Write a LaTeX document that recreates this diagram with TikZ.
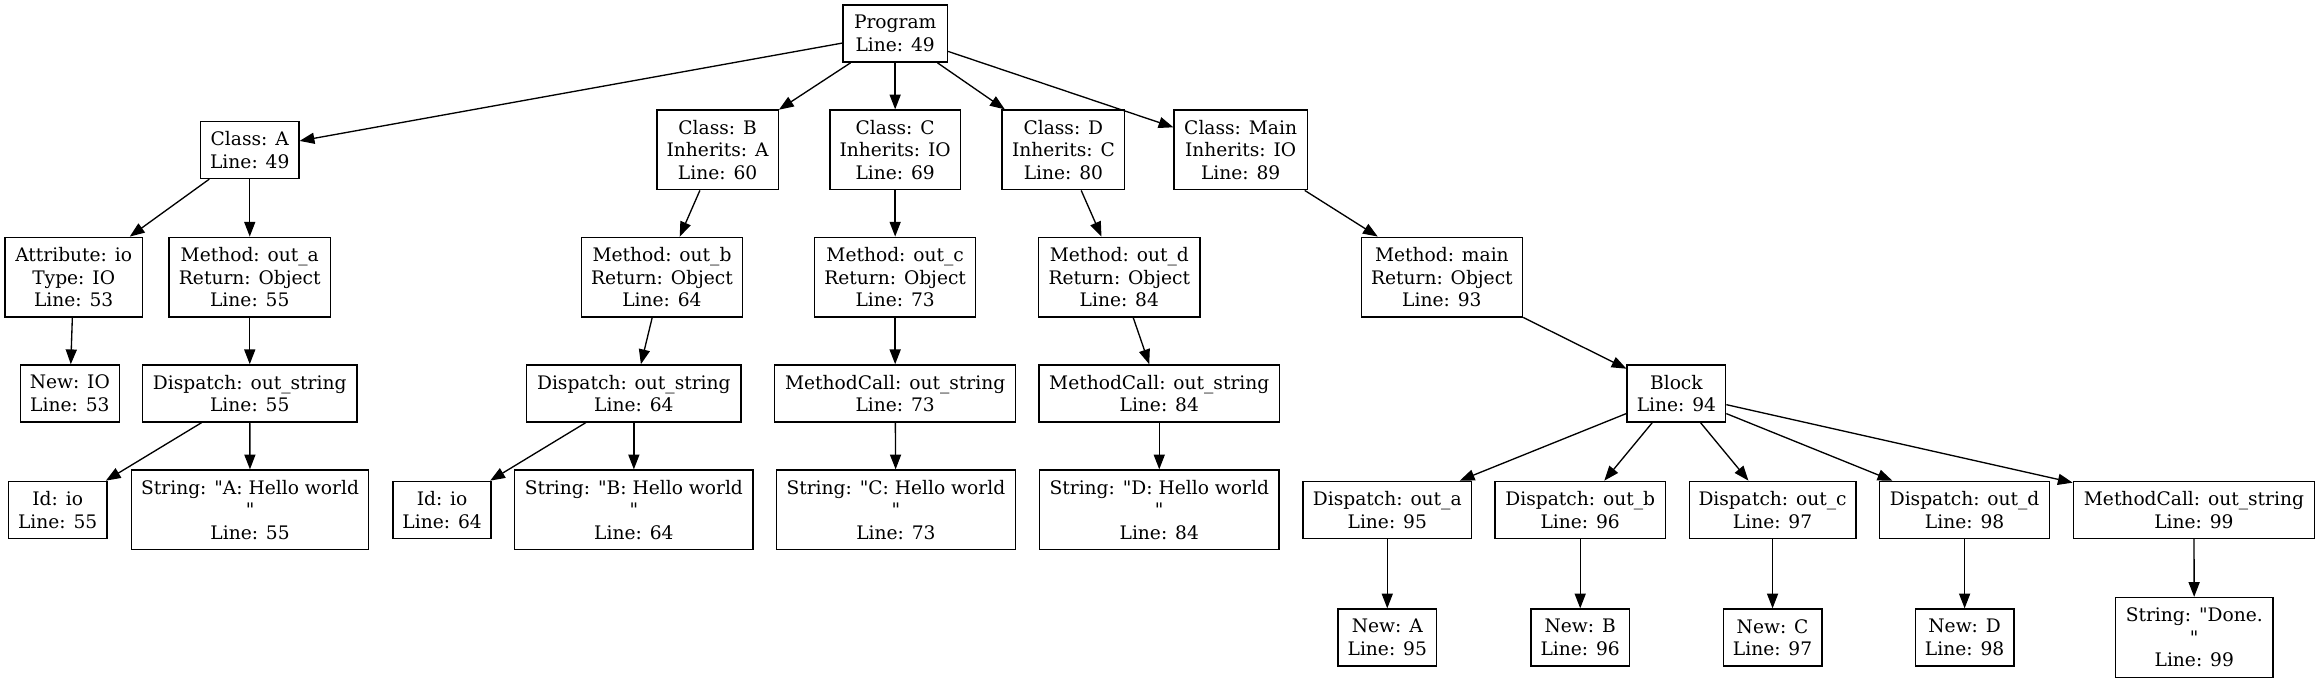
\documentclass[tikz,border=0pt]{standalone}
\usepackage{fontspec}
\setmainfont{DejaVu Serif}[Ligatures=TeXOff]
\usetikzlibrary{arrows.meta}
\begin{document}
\begin{tikzpicture}[x=1pt,y=-1pt,
  box/.style={draw, line width=0.9pt, align=center, inner xsep=6pt, inner ysep=2pt,
    font=\fontsize{12.6}{15.35}\selectfont, minimum height=38.6pt},
  tall/.style={box, minimum height=53.9pt},
  edge/.style={line width=0.9pt, -{Triangle[length=10pt,width=7.5pt]}}]
\path[use as bounding box] (0,0) rectangle (1568,461.6);
% row 0
\node[box, minimum width=70.7pt] (prog) at (605,22.7) {Program\\Line: 49};
% row 1
\node[box, minimum width=66.5pt] (clA) at (168.8,101.3) {Class: A\\Line: 49};
\node[tall, minimum width=82pt] (clB) at (485,101.3) {Class: B\\Inherits: A\\Line: 60};
\node[tall, minimum width=88pt] (clC) at (605,101.3) {Class: C\\Inherits: IO\\Line: 69};
\node[tall, minimum width=83pt] (clD) at (718.7,101.3) {Class: D\\Inherits: C\\Line: 80};
\node[tall, minimum width=90pt] (clMain) at (838.5,101.3) {Class: Main\\Inherits: IO\\Line: 89};
% row 2
\node[tall, minimum width=92.8pt] (attr) at (49.8,187.3) {Attribute: io\\Type: IO\\Line: 53};
\node[tall, minimum width=109pt] (mA) at (168.8,187.3) {Method: out\_a\\Return: Object\\Line: 55};
\node[tall, minimum width=109pt] (mB) at (447.4,187.3) {Method: out\_b\\Return: Object\\Line: 64};
\node[tall, minimum width=109pt] (mC) at (605,187.3) {Method: out\_c\\Return: Object\\Line: 73};
\node[tall, minimum width=109pt] (mD) at (756.5,187.3) {Method: out\_d\\Return: Object\\Line: 84};
\node[tall, minimum width=109pt] (mMain) at (974.5,187.3) {Method: main\\Return: Object\\Line: 93};
% row 3
\node[box, minimum width=67pt] (newIO) at (47.2,265.9) {New: IO\\Line: 53};
\node[box, minimum width=145pt] (dispA) at (168.8,265.9) {Dispatch: out\_string\\Line: 55};
\node[box, minimum width=145pt] (dispB) at (428.4,265.9) {Dispatch: out\_string\\Line: 64};
\node[box, minimum width=162.7pt] (mcC) at (605,265.9) {MethodCall: out\_string\\Line: 73};
\node[box, minimum width=162.6pt] (mcD) at (783.5,265.9) {MethodCall: out\_string\\Line: 84};
\node[box, minimum width=66.6pt] (block) at (1133,265.9) {Block\\Line: 94};
% row 4
\node[box, minimum width=66.6pt] (idA) at (39,344.6) {Id: io\\Line: 55};
\node[tall, minimum width=160.5pt] (strA) at (169,344.6) {String: "A: Hello world\\"\\Line: 55};
\node[box, minimum width=66.3pt] (idB) at (298.8,344.6) {Id: io\\Line: 64};
\node[tall, minimum width=161pt] (strB) at (428.4,344.6) {String: "B: Hello world\\"\\Line: 64};
\node[tall, minimum width=161.7pt] (strC) at (605.5,344.6) {String: "C: Hello world\\"\\Line: 73};
\node[tall, minimum width=161.7pt] (strD) at (783.5,344.6) {String: "D: Hello world\\"\\Line: 84};
\node[box, minimum width=114pt] (dA) at (937.6,344.6) {Dispatch: out\_a\\Line: 95};
\node[box, minimum width=115pt] (dB) at (1068,344.6) {Dispatch: out\_b\\Line: 96};
\node[box, minimum width=112.7pt] (dC) at (1198,344.6) {Dispatch: out\_c\\Line: 97};
\node[box, minimum width=114.7pt] (dD) at (1327.8,344.6) {Dispatch: out\_d\\Line: 98};
\node[box, minimum width=163pt] (mc99) at (1482.8,344.6) {MethodCall: out\_string\\Line: 99};
% row 5
\node[box, minimum width=66.6pt] (nA) at (937.6,430.9) {New: A\\Line: 95};
\node[box, minimum width=66.6pt] (nB) at (1068,430.9) {New: B\\Line: 96};
\node[box, minimum width=66.6pt] (nC) at (1198,430.9) {New: C\\Line: 97};
\node[box, minimum width=66.6pt] (nD) at (1327.8,430.9) {New: D\\Line: 98};
\node[tall, minimum width=106.3pt] (strDone) at (1483,430.8) {String: "Done.\\"\\Line: 99};
% edges
\foreach \t in {clA,clB,clC,clD,clMain} \draw[edge] (prog) -- (\t);
\draw[edge] (clA) -- (attr);
\draw[edge] (clA) -- (mA);
\draw[edge] (clB) -- (mB);
\draw[edge] (clC) -- (mC);
\draw[edge] (clD) -- (mD);
\draw[edge] (clMain) -- (mMain);
\draw[edge] (attr) -- (newIO);
\draw[edge] (mA) -- (dispA);
\draw[edge] (mB) -- (dispB);
\draw[edge] (mC) -- (mcC);
\draw[edge] (mD) -- (mcD);
\draw[edge] (mMain) -- (block);
\draw[edge] (dispA) -- (idA);
\draw[edge] (dispA) -- (strA);
\draw[edge] (dispB) -- (idB);
\draw[edge] (dispB) -- (strB);
\draw[edge] (mcC) -- (strC);
\draw[edge] (mcD) -- (strD);
\foreach \t in {dA,dB,dC,dD,mc99} \draw[edge] (block) -- (\t);
\draw[edge] (dA) -- (nA);
\draw[edge] (dB) -- (nB);
\draw[edge] (dC) -- (nC);
\draw[edge] (dD) -- (nD);
\draw[edge] (mc99) -- (strDone);
\end{tikzpicture}
\end{document}
